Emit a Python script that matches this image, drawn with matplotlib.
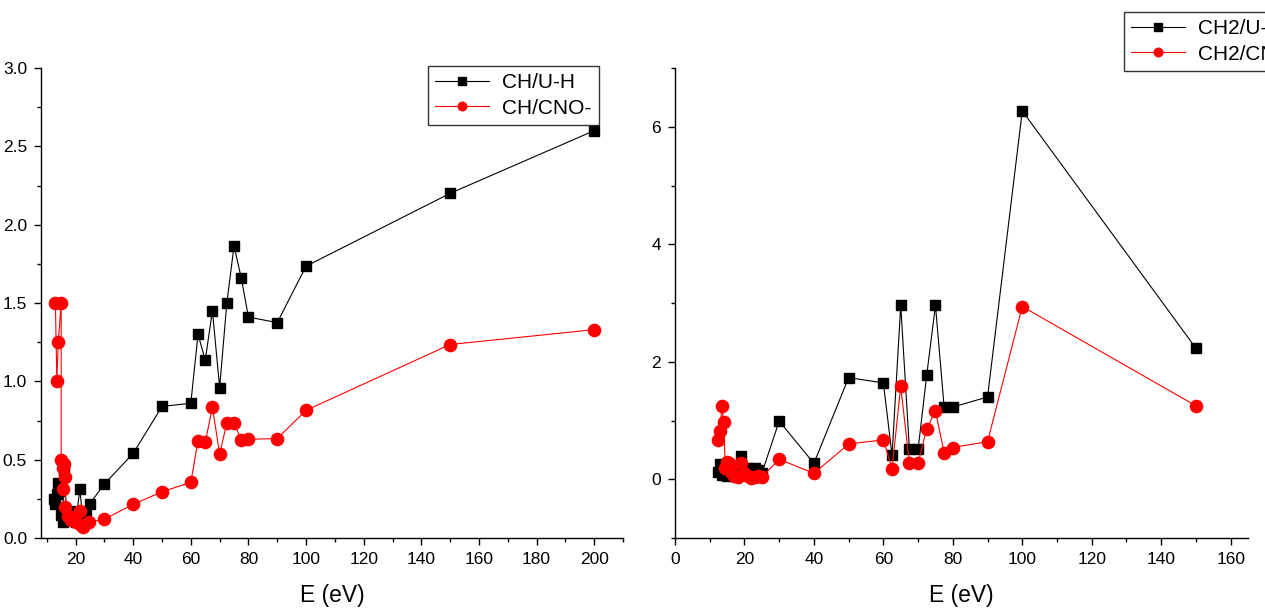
import matplotlib
matplotlib.use("Agg")
import matplotlib.pyplot as plt
from matplotlib.ticker import MultipleLocator, FormatStrFormatter

plt.rcParams['font.family'] = ['Liberation Sans', 'DejaVu Sans']

# CH fragment ratios (left panel)
e_ch_uh = [12.5, 13, 13.5, 14, 14.5, 15, 15.5, 16, 17, 18, 19, 20, 21.5, 22.5,
           23.5, 25, 30, 40, 50, 60, 62.5, 65, 67.5, 70, 72.5, 75, 77.5, 80,
           90, 100, 150, 200]
ch_uh = [0.25, 0.22, 0.28, 0.35, 0.30, 0.15, 0.10, 0.43, 0.14, 0.17, 0.12, 0.10,
         0.31, 0.12, 0.15, 0.22, 0.345, 0.54, 0.84, 0.86, 1.30, 1.135, 1.45,
         0.96, 1.50, 1.865, 1.66, 1.41, 1.375, 1.735, 2.20, 2.60]

e_ch_cno = [13, 13.5, 14, 15, 15, 15.5, 15.5, 16, 16.5, 16.5, 17.5, 18.5, 20,
            21.5, 22, 22.5, 24.5, 30, 40, 50, 60, 62.5, 65, 67.5, 70, 72.5, 75,
            77.5, 80, 90, 100, 150, 200]
ch_cno = [1.5, 1.0, 1.25, 1.5, 0.50, 0.45, 0.31, 0.47, 0.39, 0.20, 0.14, 0.115,
          0.105, 0.17, 0.08, 0.07, 0.10, 0.12, 0.215, 0.295, 0.355, 0.62, 0.61,
          0.835, 0.535, 0.735, 0.735, 0.625, 0.63, 0.635, 0.815, 1.235, 1.33]

# CH2 fragment ratios (right panel)
e_ch2_uh = [12.5, 13, 13.5, 14, 15, 16, 17, 18, 19, 20, 21, 22, 23, 24, 25, 30,
            40, 50, 60, 62.5, 65, 67.5, 70, 72.5, 75, 77.5, 80, 90, 100, 150]
ch2_uh = [0.12, 0.26, 0.08, 0.15, 0.06, 0.10, 0.06, 0.12, 0.40, 0.10, 0.19,
          0.12, 0.19, 0.15, 0.10, 0.99, 0.27, 1.73, 1.64, 0.41, 2.96, 0.51,
          0.51, 1.78, 2.96, 1.23, 1.23, 1.40, 6.27, 2.23]

e_ch2_cno = [12.5, 13, 13.5, 14, 14.5, 15, 15.5, 16, 17, 18, 19, 20, 21, 22, 23,
             24, 25, 30, 40, 50, 60, 62.5, 65, 67.5, 70, 72.5, 75, 77.5, 80, 90,
             100, 150]
ch2_cno = [0.66, 0.82, 1.25, 0.98, 0.20, 0.30, 0.28, 0.12, 0.05, 0.03, 0.27,
           0.10, 0.05, 0.02, 0.03, 0.05, 0.04, 0.34, 0.10, 0.60, 0.67, 0.18,
           1.58, 0.28, 0.28, 0.86, 1.16, 0.45, 0.54, 0.64, 2.94, 1.25]

W, H = 1265, 608
fig = plt.figure(figsize=(W / 100, H / 100), dpi=100)

ax1 = fig.add_axes([41 / W, 1 - 538 / H, 582 / W, 470 / H])
ax2 = fig.add_axes([675 / W, 1 - 538 / H, 573 / W, 470 / H])

sq = dict(color='black', marker='s', markersize=7.6, linewidth=0.8)
ci = dict(color='red', marker='o', markersize=8.8, linewidth=0.8)

l1, = ax1.plot(e_ch_uh, ch_uh, label='CH/U-H', **sq)
l2, = ax1.plot(e_ch_cno, ch_cno, label='CH/CNO-', **ci)
r1, = ax2.plot(e_ch2_uh, ch2_uh, label='CH2/U-H', **sq)
r2, = ax2.plot(e_ch2_cno, ch2_cno, label='CH2/CNO-', **ci)

ax1.set_xlim(8, 210)
ax1.set_ylim(0, 3.0)
ax1.set_xticks([20, 40, 60, 80, 100, 120, 140, 160, 180, 200])
ax1.xaxis.set_minor_locator(MultipleLocator(10))
ax1.yaxis.set_major_locator(MultipleLocator(0.5))
ax1.yaxis.set_minor_locator(MultipleLocator(0.25))
ax1.yaxis.set_major_formatter(FormatStrFormatter('%.1f'))

ax2.set_xlim(0, 165)
ax2.set_ylim(-1, 7)
ax2.xaxis.set_major_locator(MultipleLocator(20))
ax2.xaxis.set_minor_locator(MultipleLocator(10))
ax2.set_yticks([0, 2, 4, 6])
ax2.yaxis.set_minor_locator(MultipleLocator(1))

for ax in (ax1, ax2):
    for s in ('top', 'right'):
        ax.spines[s].set_visible(False)
    for s in ('left', 'bottom'):
        ax.spines[s].set_linewidth(1.0)
    ax.tick_params(which='major', direction='out', length=5, width=1.0,
                   labelsize=12.5, colors='black', pad=5)
    ax.tick_params(which='minor', direction='out', length=3, width=1.0)
    ax.set_xlabel('E (eV)', fontsize=16.5, labelpad=12)

leg_kw = dict(loc='upper left', fontsize=15, frameon=True, fancybox=False,
              edgecolor='black', handlelength=2.6, handletextpad=0.6,
              borderpad=0.35, labelspacing=0.3, borderaxespad=0,
              markerscale=0.7)
lg1 = fig.legend(handles=[l1, l2], bbox_to_anchor=(428 / W, 1 - 66 / H), **leg_kw)
lg2 = fig.legend(handles=[r1, r2], bbox_to_anchor=(1124 / W, 1 - 12 / H), **leg_kw)
for lg in (lg1, lg2):
    lg.get_frame().set_linewidth(1.0)

fig.savefig('out.png', dpi=100)
